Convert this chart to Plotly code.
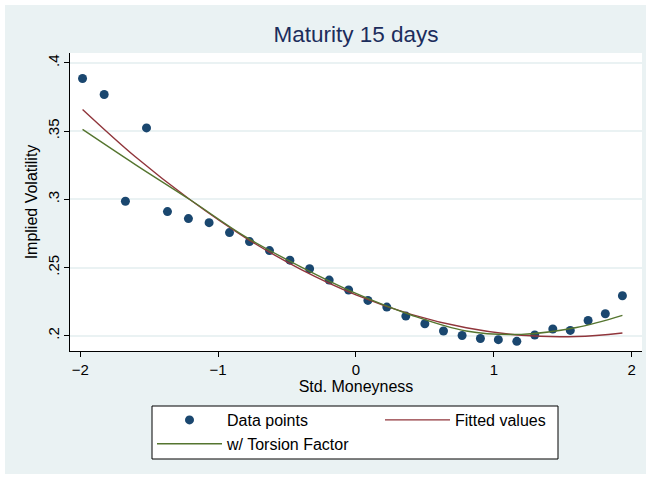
import plotly.graph_objects as go

# Data points (standardized moneyness, implied volatility)
data_x = [-1.983, -1.826, -1.672, -1.519, -1.367, -1.215, -1.065, -0.917, -0.772, -0.627,
          -0.479, -0.336, -0.194, -0.053, 0.087, 0.224, 0.362, 0.500, 0.635, 0.770,
          0.903, 1.033, 1.167, 1.297, 1.428, 1.555, 1.684, 1.809, 1.933]
data_y = [0.3886, 0.3769, 0.2986, 0.3524, 0.2910, 0.2859, 0.2829, 0.2756, 0.2690, 0.2624,
          0.2554, 0.2491, 0.2408, 0.2335, 0.2259, 0.2210, 0.2144, 0.2088, 0.2035, 0.2002,
          0.1980, 0.1971, 0.1959, 0.2005, 0.2049, 0.2039, 0.2112, 0.2161, 0.2293]

# Fitted curves
line_x = [-1.983, -1.6, -1.2, -0.8, -0.4, 0.0, 0.4, 0.8, 1.2, 1.6, 1.933]
fitted_y = [0.3659, 0.3312, 0.2995, 0.2718, 0.2487, 0.2300, 0.2157, 0.2058, 0.2003, 0.1994, 0.2020]
torsion_y = [0.3513, 0.3255, 0.2995, 0.2725, 0.2505, 0.2310, 0.2152, 0.2035, 0.2010, 0.2060, 0.2149]

x_ticks = [-2, -1, 0, 1, 2]
y_ticks = [0.2, 0.25, 0.3, 0.35, 0.4]
y_ticktext = [".2", ".25", ".3", ".35", ".4"]

FONT = "Liberation Sans, Arial, sans-serif"
BG = "#eaf2f3"

fig = go.Figure()
fig.add_trace(go.Scatter(x=data_x, y=data_y, mode="markers", name="Data points",
                         marker=dict(color="#1a476f", size=9)))
fig.add_trace(go.Scatter(x=line_x, y=fitted_y, mode="lines", name="Fitted values",
                         line=dict(color="#90353b", width=1.4, shape="spline")))
fig.add_trace(go.Scatter(x=line_x, y=torsion_y, mode="lines", name="w/ Torsion Factor",
                         line=dict(color="#55752f", width=1.4, shape="spline")))

L, R, T, B = 70, 9, 53, 128
W, H = 651, 479
pw, ph = W - L - R, H - T - B

def px_x(p):
    return (p - L) / pw

def px_y(p):
    return (H - B - p) / ph

fig.update_layout(
    width=W, height=H,
    margin=dict(l=L, r=R, t=T, b=B),
    paper_bgcolor="white", plot_bgcolor="white",
    font=dict(family=FONT, color="black", size=15),
    title=dict(text="Maturity 15 days", x=(L + pw / 2) / W, xanchor="center",
               y=1 - 34 / H, yanchor="middle",
               font=dict(size=22.5, color="#1c2d5c", family=FONT)),
    shapes=[
        dict(type="rect", xref="paper", yref="paper", layer="below",
             x0=px_x(5), x1=px_x(646), y0=px_y(474), y1=px_y(5),
             fillcolor=BG, line=dict(width=0)),
        dict(type="rect", xref="paper", yref="paper", layer="below",
             x0=0, x1=1, y0=0, y1=1, fillcolor="white", line=dict(width=0)),
        # legend frame
        dict(type="rect", xref="paper", yref="paper", layer="below",
             x0=px_x(152), x1=px_x(558), y0=px_y(459), y1=px_y(406),
             fillcolor="white", line=dict(color="black", width=1)),
    ],
    xaxis=dict(range=[-2.074, 2.075], tickvals=x_ticks, ticks="outside", ticklen=5,
               tickcolor="black", showline=True, linecolor="black", linewidth=1,
               showgrid=False, zeroline=False, mirror=False,
               title=dict(text="Std. Moneyness", standoff=3, font=dict(size=16)),
               tickfont=dict(size=15)),
    yaxis=dict(range=[0.1888, 0.4073], tickvals=y_ticks, ticktext=y_ticktext,
               ticks="outside", ticklen=5, tickcolor="black", tickangle=-90,
               ticklabelstandoff=-1,
               showline=True, linecolor="black", linewidth=1,
               showgrid=True, gridcolor=BG, gridwidth=1.5, zeroline=False,
               title=dict(text="Implied Volatility", standoff=3, font=dict(size=16)),
               tickfont=dict(size=15)),
    legend=dict(orientation="h", x=px_x(152), xanchor="left",
                y=px_y(403), yanchor="top",
                bgcolor="rgba(0,0,0,0)", borderwidth=0,
                itemwidth=65, entrywidth=148, font=dict(size=16), tracegroupgap=0),
    showlegend=True,
)

fig.write_html("out.html")
